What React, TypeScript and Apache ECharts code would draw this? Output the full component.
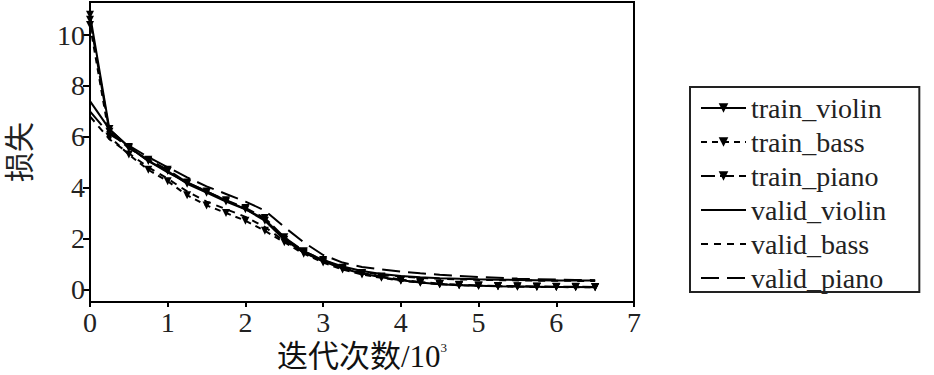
import React, { useEffect, useRef } from "react";
import * as echarts from "echarts";

const iterations = [0, 0.25, 0.5, 0.75, 1, 1.25, 1.5, 1.75, 2, 2.25, 2.5, 2.75, 3, 3.25, 3.5, 3.75, 4, 4.25, 4.5, 4.75, 5, 5.25, 5.5, 5.75, 6, 6.25, 6.5];

const trainViolin = [10.8, 6.3, 5.6, 5.05, 4.65, 4.15, 3.8, 3.45, 3.15, 2.7, 1.95, 1.45, 1.1, 0.82, 0.62, 0.47, 0.36, 0.27, 0.2, 0.16, 0.14, 0.12, 0.11, 0.1, 0.09, 0.09, 0.08];
const trainBass = [10.4, 6.0, 5.3, 4.7, 4.25, 3.7, 3.3, 3.0, 2.7, 2.3, 1.85, 1.4, 1.05, 0.78, 0.58, 0.45, 0.34, 0.26, 0.2, 0.16, 0.14, 0.12, 0.1, 0.09, 0.09, 0.08, 0.08];
const trainPiano = [10.6, 6.2, 5.55, 5.1, 4.7, 4.2, 3.85, 3.5, 3.2, 2.8, 2.05, 1.5, 1.15, 0.85, 0.64, 0.5, 0.38, 0.29, 0.22, 0.18, 0.15, 0.13, 0.12, 0.11, 0.1, 0.1, 0.09];
const validViolin = [7.4, 6.3, 5.6, 5.05, 4.6, 4.2, 3.85, 3.5, 3.15, 2.75, 2.0, 1.5, 1.15, 0.9, 0.72, 0.6, 0.52, 0.47, 0.43, 0.41, 0.39, 0.38, 0.37, 0.36, 0.35, 0.35, 0.35];
const validBass = [6.8, 5.9, 5.35, 4.8, 4.35, 3.85, 3.45, 3.15, 2.85, 2.45, 1.9, 1.45, 1.1, 0.85, 0.68, 0.57, 0.5, 0.45, 0.41, 0.39, 0.37, 0.36, 0.35, 0.34, 0.34, 0.33, 0.33];
const validPiano = [7.0, 6.1, 5.65, 5.2, 4.8, 4.4, 4.05, 3.75, 3.45, 3.1, 2.45, 1.85, 1.35, 1.05, 0.88, 0.78, 0.7, 0.63, 0.57, 0.52, 0.48, 0.45, 0.42, 0.4, 0.38, 0.37, 0.36];

const seriesNames = ["train_violin", "train_bass", "train_piano", "valid_violin", "valid_bass", "valid_piano"];
const yTicks = [0, 2, 4, 6, 8, 10];
const xAxisName = "迭代次数/10";
const xAxisSup = "3";
const yAxisName = "损失";

const SERIF = "Liberation Serif, Times New Roman, Times, DejaVu Serif, serif";
const MIXED = "Liberation Serif, Times New Roman, Times, Noto Sans CJK SC, serif";

export default function App() {
  const ref = useRef<HTMLDivElement>(null);
  useEffect(() => {
    if (!ref.current) return;
    const chart = echarts.init(ref.current, undefined, { renderer: "svg" });
    const allData = [trainViolin, trainBass, trainPiano, validViolin, validBass, validPiano];
    const dashes: (number[] | "solid")[] = ["solid", [6, 5], [14, 5], "solid", [7, 6], [18, 8]];
    const series = allData.map((vals, i) => ({
      name: seriesNames[i],
      type: "line",
      data: iterations.map((x, j) => [x, vals[j]]),
      symbol: i < 3 ? "triangle" : "none",
      symbolRotate: 180,
      symbolSize: 8,
      showSymbol: i < 3,
      itemStyle: { color: "#000" },
      lineStyle: { color: "#000", width: 2, type: dashes[i] },
      z: 3,
    }));
    chart.setOption({
      animation: false,
      backgroundColor: "#fff",
      grid: {
        left: 90,
        top: 2,
        right: 300,
        bottom: 73,
        show: true,
        containLabel: false,
        outerBoundsMode: "none",
        borderColor: "#000",
        borderWidth: 2,
        backgroundColor: "transparent",
      },
      xAxis: {
        type: "value",
        min: 0,
        max: 7,
        interval: 1,
        name: xAxisName + "{s|" + xAxisSup + "}",
        nameLocation: "middle",
        nameGap: 37,
        nameTextStyle: {
          fontFamily: MIXED,
          fontSize: 31,
          color: "#111",
          rich: {
            s: { fontFamily: SERIF, fontSize: 13, color: "#111", verticalAlign: "top", padding: [0, 0, 12, 0] },
          },
        },
        axisLine: { onZero: false, lineStyle: { color: "#000", width: 2 } },
        axisTick: { inside: false, length: 5, lineStyle: { color: "#000", width: 2 } },
        axisLabel: { fontFamily: SERIF, fontSize: 28, color: "#222", margin: 6 },
        splitLine: { show: false },
      },
      yAxis: {
        type: "value",
        min: -0.5,
        max: 11.3,
        name: yAxisName,
        nameLocation: "middle",
        nameGap: 56,
        nameTextStyle: { fontFamily: MIXED, fontSize: 30, color: "#222" },
        axisLine: { lineStyle: { color: "#000", width: 2 } },
        axisTick: { inside: false, length: 7, lineStyle: { color: "#000", width: 2 }, customValues: yTicks },
        axisLabel: { fontFamily: SERIF, fontSize: 28, color: "#222", margin: 5, customValues: yTicks },
        splitLine: { show: false },
      },
      legend: {
        orient: "vertical",
        left: 690,
        top: 87,
        data: seriesNames.map((n, i) => (i < 3 ? { name: n } : { name: n, itemStyle: { opacity: 0 } })),
        itemWidth: 45,
        itemHeight: 12,
        itemGap: 6,
        padding: [7, 33, 0, 10],
        borderColor: "#222",
        borderWidth: 2,
        textStyle: { fontFamily: SERIF, fontSize: 28, color: "#222" },
      },
      series,
    });
    return () => chart.dispose();
  }, []);
  return <div ref={ref} style={{ position: "fixed", left: 0, top: 0, width: 934, height: 375 }} />;
}
